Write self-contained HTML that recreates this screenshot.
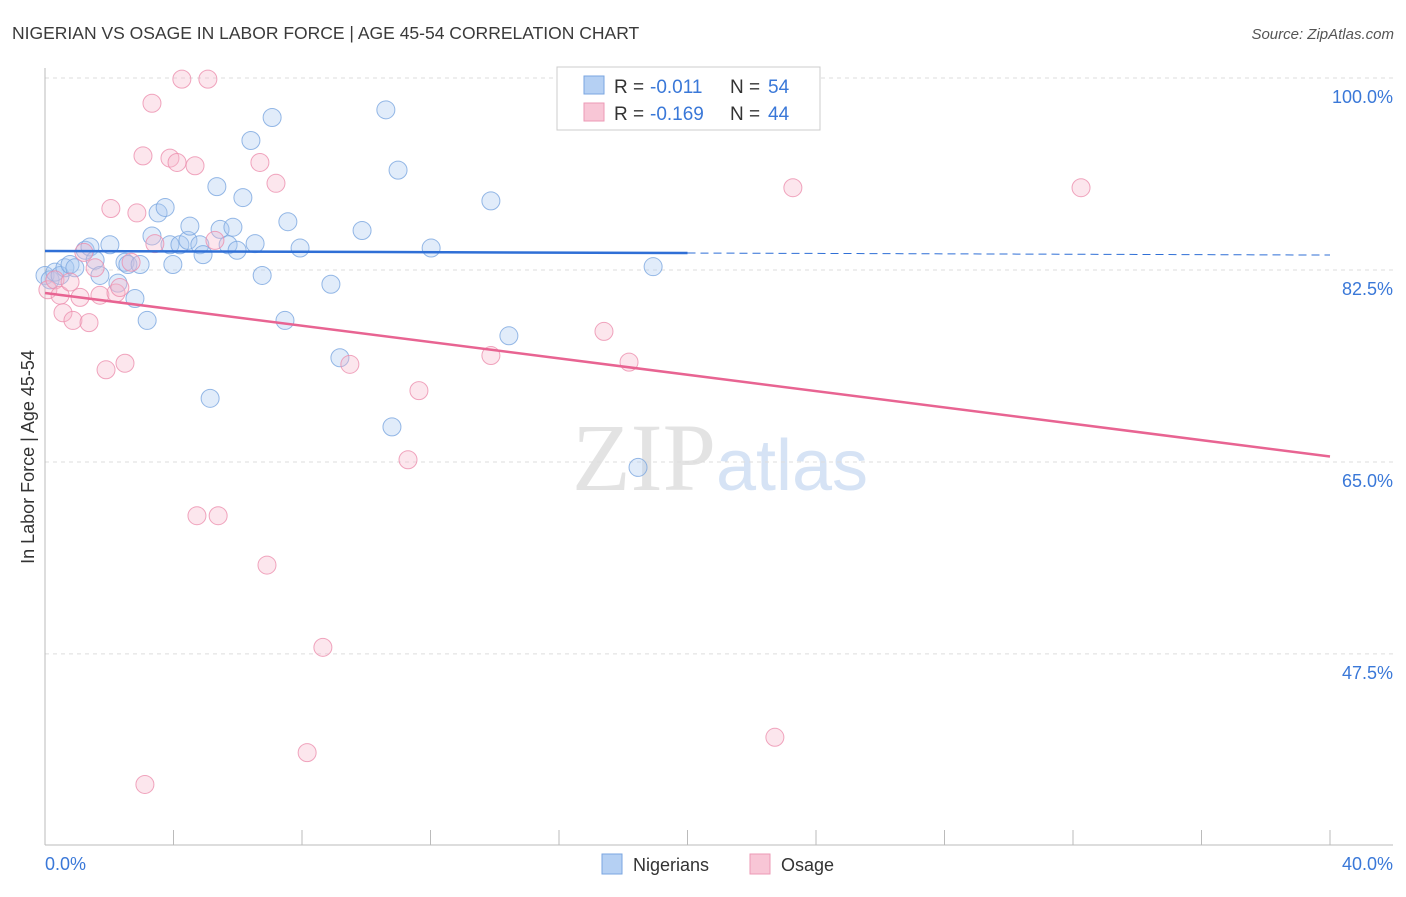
<!DOCTYPE html>
<html><head><meta charset="utf-8"><style>
body{margin:0;background:#fff;font-family:"Liberation Sans",sans-serif}
</style></head><body>
<svg id="chart" width="1406" height="892" xmlns="http://www.w3.org/2000/svg" font-family="Liberation Sans, sans-serif">
<text x="12" y="39" font-size="17.5" fill="#3a3a3a">NIGERIAN VS OSAGE IN LABOR FORCE | AGE 45-54 CORRELATION CHART</text>
<text x="1394" y="39" font-size="15" fill="#555" text-anchor="end" font-style="italic">Source: ZipAtlas.com</text>
<text x="720" y="490" font-size="96" text-anchor="middle" fill="#e3e3e3" font-family="Liberation Serif, serif">ZIP<tspan fill="#d6e3f5" font-family="Liberation Sans, sans-serif" font-size="72">atlas</tspan></text>
<text transform="translate(34,457) rotate(-90)" font-size="18" fill="#333" text-anchor="middle">In Labor Force | Age 45-54</text>
<g id="grid"></g><g id="marks"></g>
<g>
<rect x="557" y="67" width="263" height="63" fill="#fff" stroke="#ccc"/>
<rect x="584" y="76" width="20" height="18" fill="#b5d0f3" stroke="#7aa6e0"/>
<rect x="584" y="103" width="20" height="18" fill="#f8c6d6" stroke="#ec9ab6"/>
<text x="614" y="93" font-size="19" fill="#333">R =</text>
<text x="650" y="93" font-size="19" fill="#3a78d8">-0.011</text>
<text x="730" y="93" font-size="19" fill="#333">N =</text>
<text x="768" y="93" font-size="19" fill="#3a78d8">54</text>
<text x="614" y="120" font-size="19" fill="#333">R =</text>
<text x="650" y="120" font-size="19" fill="#3a78d8">-0.169</text>
<text x="730" y="120" font-size="19" fill="#333">N =</text>
<text x="768" y="120" font-size="19" fill="#3a78d8">44</text>
</g>
<g>
<rect x="602" y="854" width="20" height="20" fill="#b5d0f3" stroke="#7aa6e0"/>
<text x="633" y="871" font-size="18" fill="#333">Nigerians</text>
<rect x="750" y="854" width="20" height="20" fill="#f8c6d6" stroke="#ec9ab6"/>
<text x="781" y="871" font-size="18" fill="#333">Osage</text>
</g>
</svg>
<script>
const yTicks=[100,82.5,65,47.5];
const yTickLabels=["100.0%","82.5%","65.0%","47.5%"];
const xTickLabels=["0.0%","40.0%"];
const blueX=[0,0.16,0.31,0.47,0.62,0.78,0.93,1.25,1.4,1.56,1.71,2.02,2.27,2.49,2.58,2.8,2.96,3.18,3.33,3.52,3.74,3.89,3.98,4.2,4.45,4.51,4.82,4.92,5.14,5.35,5.45,5.7,5.85,5.98,6.16,6.41,6.54,6.76,7.07,7.47,7.56,7.94,8.9,9.18,9.87,10.61,10.8,10.99,12.02,13.88,14.44,16.53,18.46,18.93];
const blueY=[82,81.6,82.3,82,82.7,83,82.7,84.3,84.6,83.4,82,84.8,81.3,83.2,83,79.9,83,77.9,85.6,87.7,88.2,84.8,83,84.8,85.2,86.5,84.8,83.9,70.8,90.1,86.2,84.8,86.4,84.3,89.1,94.3,84.9,82,96.4,77.9,86.9,84.5,81.2,74.5,86.1,97.1,68.2,91.6,84.5,88.8,76.5,99.8,64.5,82.8];
const pinkX=[0.09,0.31,0.47,0.56,0.78,0.87,1.09,1.21,1.37,1.56,1.71,1.9,2.05,2.21,2.33,2.49,2.68,2.86,3.05,3.11,3.33,3.42,3.89,4.11,4.26,4.67,4.73,5.07,5.29,5.39,6.69,6.91,7.19,8.16,8.65,9.49,11.3,11.64,13.88,17.4,18.18,22.72,23.28,32.25];
const pinkY=[80.7,81.6,80.2,78.6,81.4,77.9,80,84.1,77.7,82.7,80.2,73.4,88.1,80.4,80.9,74,83.2,87.7,92.9,35.6,97.7,84.9,92.7,92.3,99.9,92,60.1,99.9,85.2,60.1,92.3,55.6,90.4,38.5,48.1,73.9,65.2,71.5,74.7,76.9,74.1,39.9,90,90];
const blueLine=[84.23,83.86];
const pinkLine=[80.4,65.5];
const NS="http://www.w3.org/2000/svg";
const sx=v=>45+v*32.125, sy=v=>78+(100-v)*10.97;
function mk(t,a,p){const e=document.createElementNS(NS,t);for(const k in a)e.setAttribute(k,a[k]);p.appendChild(e);return e;}
const grid=document.getElementById('grid'),marks=document.getElementById('marks');
yTicks.forEach((v,i)=>{
 const l=mk('line',{x1:45,x2:1393,y1:sy(v),y2:sy(v),stroke:'#ddd','stroke-dasharray':'4,4'},grid);
 
 
 const t=mk('text',{x:1393,y:sy(v)+25,'font-size':18,fill:'#3a78d8','text-anchor':'end'},grid);t.textContent=yTickLabels[i];
 
 
});
mk('line',{x1:45,x2:45,y1:68,y2:845,stroke:'#bbb'},grid);
mk('line',{x1:45,x2:1393,y1:845,y2:845,stroke:'#bbb'},grid);
for(let i=0;i<=10;i++){const x=sx(i*4);mk('line',{x1:x,x2:x,y1:830,y2:845,stroke:'#bbb'},grid);}
[[0,'start',45],[40,'end',1393]].forEach((d,i)=>{const t=mk('text',{x:d[2],y:870,'font-size':18,fill:'#3a78d8','text-anchor':d[1]},grid);t.textContent=xTickLabels[i];
 
 });
function pts(xs,ys,fill,stroke,name){xs.forEach((x,i)=>{const c=mk('circle',{cx:sx(x),cy:sy(ys[i]),r:9,fill:fill,'fill-opacity':0.35,stroke:stroke,'stroke-opacity':0.8,'stroke-width':1},marks);
 
 });}
pts(blueX,blueY,'#a9c8f0','#7aa6e0','nigerian-point');
pts(pinkX,pinkY,'#f5b8cb','#ec8fae','osage-point');
const bAt=x=>blueLine[0]+(blueLine[1]-blueLine[0])*x/40;
let l=mk('line',{x1:sx(0),y1:sy(bAt(0)),x2:sx(20),y2:sy(bAt(20)),stroke:'#2f6fd6','stroke-width':2.5},marks);


l=mk('line',{x1:sx(20),y1:sy(bAt(20)),x2:sx(40),y2:sy(bAt(40)),stroke:'#2f6fd6','stroke-width':1,'stroke-dasharray':'8,5'},marks);


l=mk('line',{x1:sx(0),y1:sy(pinkLine[0]),x2:sx(40),y2:sy(pinkLine[1]),stroke:'#e86492','stroke-width':2.5},marks);


</script>
</body></html>
